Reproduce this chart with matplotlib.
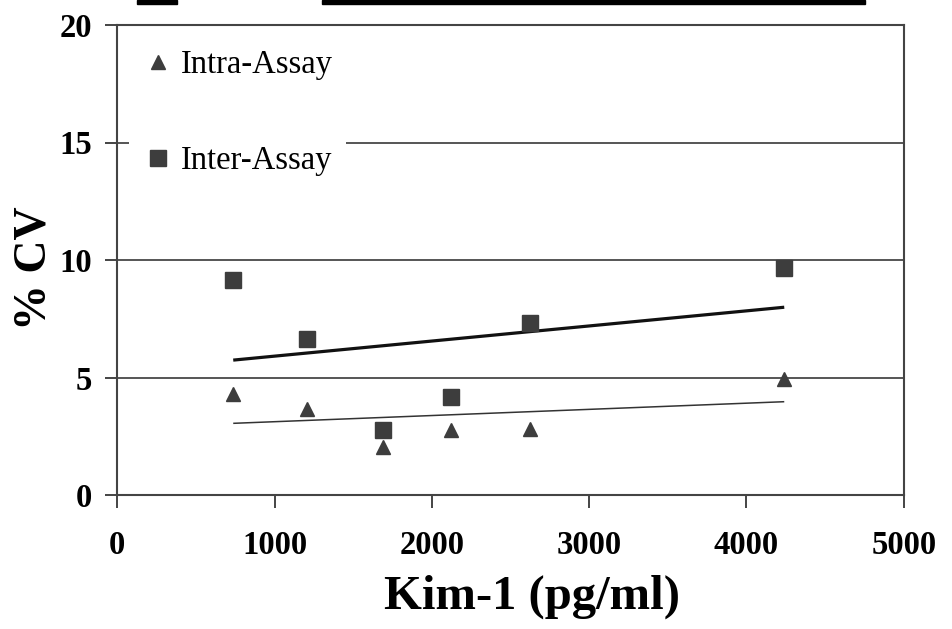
import matplotlib
matplotlib.use("Agg")
import matplotlib.pyplot as plt
from matplotlib.lines import Line2D
from matplotlib.patches import Rectangle

# ---- data ----
kim1 = [737, 1204, 1691, 2119, 2624, 4240]
intra_cv = [4.3, 3.65, 2.05, 2.75, 2.8, 4.92]
inter_cv = [9.15, 6.62, 2.77, 4.15, 7.32, 9.65]
trend_x = [737, 4240]
intra_trend = [3.05, 3.97]
inter_trend = [5.74, 7.99]
xticks = [0, 1000, 2000, 3000, 4000, 5000]
yticks = [0, 5, 10, 15, 20]

serif = ["Liberation Serif", "DejaVu Serif"]
plt.rcParams["font.family"] = serif

fig = plt.figure(figsize=(9.52, 6.29), dpi=100)
ax = fig.add_axes([117.3 / 952, 1 - 495 / 629, (903.8 - 117.3) / 952, 470 / 629])

mcol = "#3d3d3d"
axcol = "#444444"

ax.set_xlim(0, 5000)
ax.set_ylim(0, 20)
ax.set_xticks(xticks)
ax.set_yticks(yticks)
ax.set_xticklabels([str(t) for t in xticks], fontsize=23.5, fontweight="bold")
ax.set_yticklabels([str(t) for t in yticks], fontsize=23.5, fontweight="bold")
ax.tick_params(axis="x", direction="out", length=9, width=1.4, color=axcol, pad=16)
ax.tick_params(axis="y", direction="out", length=9, width=1.4, color=axcol, pad=9)

for s in ax.spines.values():
    s.set_color(axcol)
    s.set_linewidth(1.5)

for yv in yticks[1:-1]:
    ax.axhline(yv, color="#555555", lw=1.4, zorder=1)

ax.plot(trend_x, inter_trend, color="#111111", lw=2.3, zorder=3, solid_capstyle="butt")
ax.plot(trend_x, intra_trend, color="#333333", lw=1.1, zorder=3, solid_capstyle="butt")

ax.plot(kim1, inter_cv, linestyle="none", marker="s", ms=11.5, color=mcol, zorder=4)
ax.plot(kim1, intra_cv, linestyle="none", marker="^", ms=10.5, color=mcol, zorder=4)

ax.set_xlabel("Kim-1 (pg/ml)", fontsize=35, fontweight="bold")
ax.set_ylabel("% CV", fontsize=33, fontweight="bold")
ax.xaxis.set_label_coords((532 - 117.3) / (903.8 - 117.3), -(597 - 495) / 470, transform=ax.transAxes)
ax.yaxis.set_label_coords(-(117.3 - 34) / (903.8 - 117.3), (495 - 268) / 470, transform=ax.transAxes)
ax.xaxis.label.set_va("center")
ax.yaxis.label.set_va("center")

handles = [
    Line2D([], [], linestyle="none", marker="^", ms=10.5, color=mcol),
    Line2D([], [], linestyle="none", marker="s", ms=11, color=mcol),
]
leg = ax.legend(handles, ["Intra-Assay", "Inter-Assay"], loc="upper left",
                bbox_to_anchor=(0.0145, 0.975), borderaxespad=0, borderpad=0.4,
                handlelength=1.0, handletextpad=0.2, labelspacing=2.0,
                frameon=True, facecolor="white", edgecolor="none", framealpha=1,
                prop={"family": serif, "size": 23.5})
leg.set_zorder(2)

# black bars at the top edge of the reference picture
fig.patches.append(Rectangle((137 / 952, 1 - 4 / 629), 40 / 952, 4 / 629,
                             transform=fig.transFigure, color="black"))
fig.patches.append(Rectangle((322 / 952, 1 - 4 / 629), 543 / 952, 4 / 629,
                             transform=fig.transFigure, color="black"))

fig.savefig("out.png", dpi=100, facecolor="white")
